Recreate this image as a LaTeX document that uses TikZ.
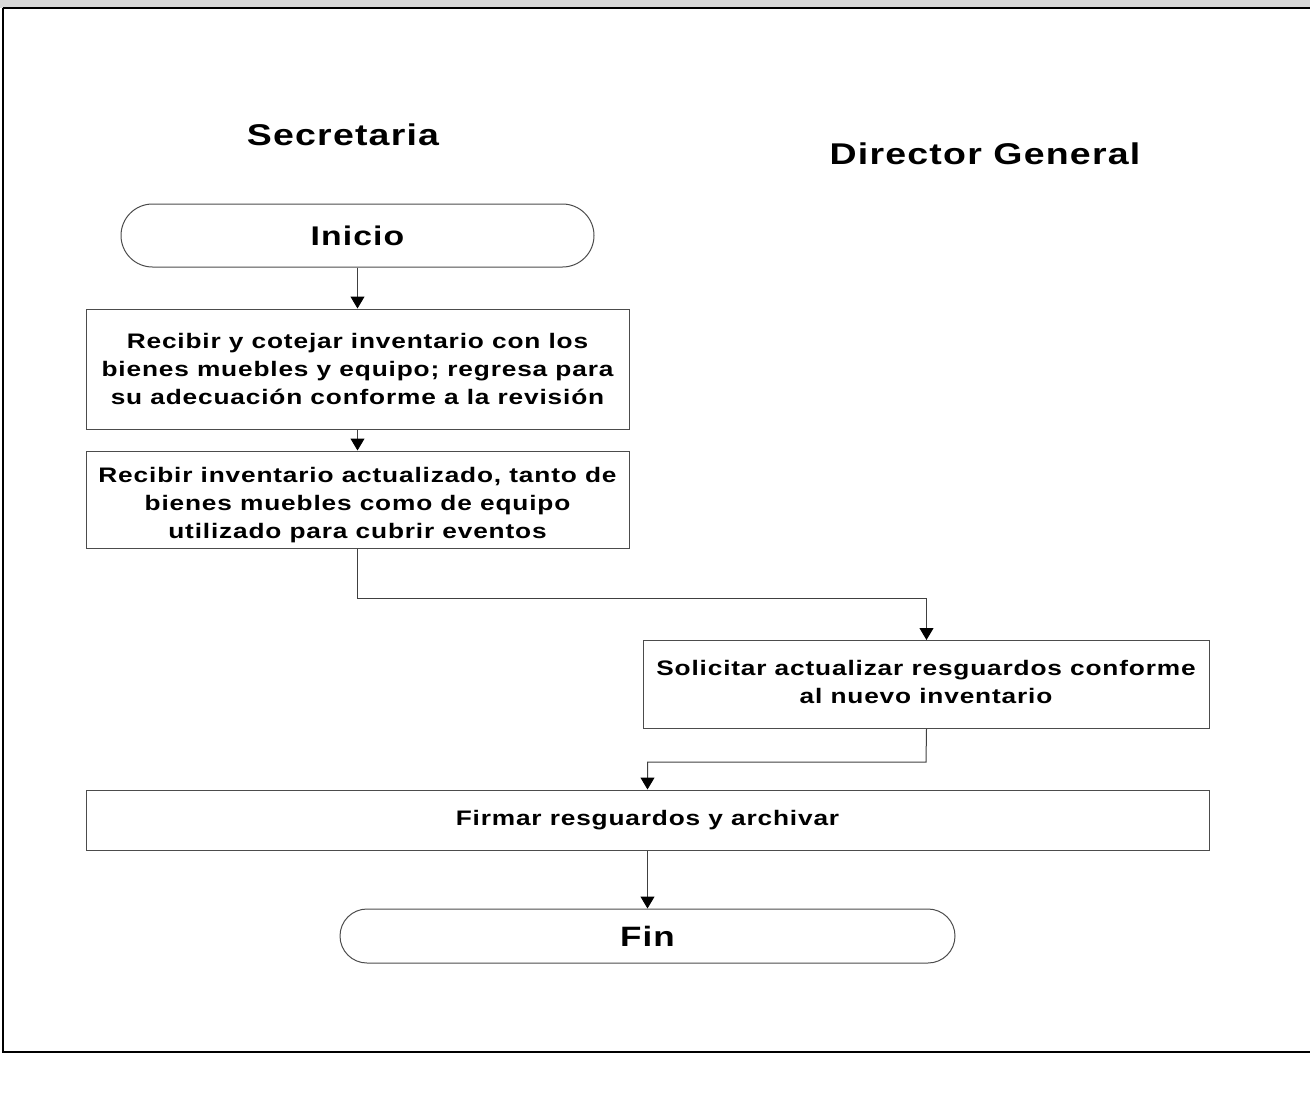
\documentclass[tikz,border=0pt]{standalone}
\usepackage{fontspec}
\setmainfont{Liberation Sans}
\newfontfamily\widefont[FakeStretch=1.25,LetterSpace=4]{Liberation Sans}
\usetikzlibrary{arrows.meta,shapes.misc}
\begin{document}
\begin{tikzpicture}[x=1pt,y=-1pt,
  lbl/.style={font=\widefont\fontsize{21}{28}\selectfont\bfseries, align=center},
  proc/.style={draw=black!70, line width=1pt, rectangle, inner sep=0pt},
  term/.style={draw=black!70, line width=1pt, rounded rectangle, inner sep=0pt},
  flow/.style={draw=black!75, line width=1pt, -{Triangle[width=14pt,length=12pt,fill=black,color=black]}},
  head/.style={font=\widefont\fontsize{30}{34}\selectfont\bfseries}]
\useasboundingbox (0,0) rectangle (1310,1093);
\fill[gray!30] (0,0) rectangle (1310,8);
\draw[line width=1.2pt] (3,8) -- (1310,8);
\draw[line width=1.2pt] (3,8) -- (3,1052) -- (1310,1052);

\node[head] (sec) at (343,135) {Secretaria};
\node[head] (dir) at (985,154) {Director General};

\node[term, minimum width=473pt, minimum height=63pt, font=\widefont\fontsize{27}{32}\selectfont\bfseries] (ini) at (357.5,235.5) {Inicio};
\node[proc, minimum width=543pt, minimum height=120pt, lbl] (b1) at (357.5,369) {Recibir y cotejar inventario con los\\bienes muebles y equipo; regresa para\\su adecuación conforme a la revisión};
\node[proc, minimum width=543pt, minimum height=97pt] (b2) at (357.5,499.5) {};
\node[lbl] (b2t) at (357.5,505) {Recibir inventario actualizado, tanto de\\bienes muebles como de equipo\\utilizado para cubrir eventos};
\node[proc, minimum width=566pt, minimum height=88pt, anchor=north west] (b3) at (643,640) {};
\node[lbl, anchor=north] (b3t) at (926,657) {Solicitar actualizar resguardos conforme\\al nuevo inventario};
\node[proc, minimum width=1123pt, minimum height=60pt, lbl] (b4) at (647.5,820) {Firmar resguardos y archivar};
\node[term, minimum width=615pt, minimum height=54pt, font=\widefont\fontsize{28}{32}\selectfont\bfseries] (fin) at (647.5,936) {Fin};

\draw[flow] (ini.south) -- (b1.north);
\draw[flow] (b1.south) -- (b2.north);
\draw[flow] (b2.south) -- (357.5,598) -| (b3.north);
\draw[flow] (b3.south) -- (926,762) -| (b4.north);
\draw[flow] (b4.south) -- (fin.north);
\end{tikzpicture}
\end{document}
